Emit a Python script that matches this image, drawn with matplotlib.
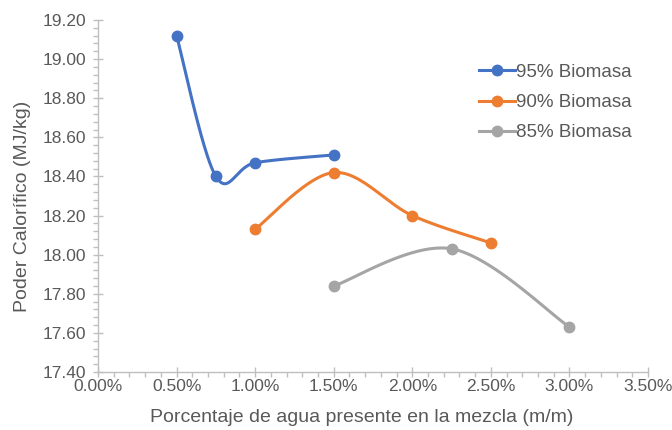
import numpy as np
import matplotlib
matplotlib.use("Agg")
import matplotlib.pyplot as plt
from matplotlib.ticker import MultipleLocator, FuncFormatter
from matplotlib.lines import Line2D

# Water content in the mixture (% m/m) and calorific value (MJ/kg)
x_95 = [0.50, 0.75, 1.00, 1.50]
y_95 = [19.12, 18.40, 18.47, 18.51]
x_90 = [1.00, 1.50, 2.00, 2.50]
y_90 = [18.13, 18.42, 18.20, 18.06]
x_85 = [1.50, 2.25, 3.00]
y_85 = [17.84, 18.03, 17.63]
series_labels = ["95% Biomasa", "90% Biomasa", "85% Biomasa"]
series_colors = ["#4472C4", "#ED7D31", "#A5A5A5"]

plt.rcParams["font.family"] = ["Liberation Sans", "DejaVu Sans"]

fig = plt.figure(figsize=(6.72, 4.30), dpi=100)
ax = fig.add_axes([98 / 672, 1 - 372 / 430, 550 / 672, 352 / 430])
ax.set_xlim(0, 3.5)
ax.set_ylim(17.40, 19.20)


def smooth_curve(ax, xs, ys, n=60):
    """Cardinal (Catmull-Rom) Bezier smoothing computed in display space."""
    pts = ax.transData.transform(np.column_stack([xs, ys]))
    out = [pts[0]]
    m = len(pts)
    for i in range(m - 1):
        p0 = pts[i - 1] if i > 0 else pts[i]
        p1 = pts[i]
        p2 = pts[i + 1]
        p3 = pts[i + 2] if i + 2 < m else pts[i + 1]
        c1 = p1 + (p2 - p0) / 6.0
        c2 = p2 - (p3 - p1) / 6.0
        t = np.linspace(0, 1, n)[1:, None]
        seg = ((1 - t) ** 3) * p1 + 3 * ((1 - t) ** 2) * t * c1 \
            + 3 * (1 - t) * t ** 2 * c2 + t ** 3 * p2
        out.extend(seg)
    out = np.array(out)
    data = ax.transData.inverted().transform(out)
    return data[:, 0], data[:, 1]


handles = []
for xs, ys, lab, col in zip([x_95, x_90, x_85], [y_95, y_90, y_85],
                            series_labels, series_colors):
    sx, sy = smooth_curve(ax, xs, ys)
    ax.plot(sx, sy, color=col, lw=2.2, solid_capstyle="round", zorder=2)
    ax.plot(xs, ys, "o", color=col, ms=7.5, zorder=3)
    handles.append(Line2D([], [], color=col, lw=2.2, marker="o", ms=7.5))

# Axes styling
for s in ("top", "right"):
    ax.spines[s].set_visible(False)
for s in ("left", "bottom"):
    ax.spines[s].set_color("#BFBFBF")
    ax.spines[s].set_linewidth(1.0)

ax.xaxis.set_major_locator(MultipleLocator(0.5))
ax.xaxis.set_minor_locator(MultipleLocator(0.1))
ax.yaxis.set_major_locator(MultipleLocator(0.2))
ax.yaxis.set_minor_locator(MultipleLocator(0.04))
ax.xaxis.set_major_formatter(FuncFormatter(lambda v, p: f"{v:.2f}%"))
ax.yaxis.set_major_formatter(FuncFormatter(lambda v, p: f"{v:.2f}"))

ax.tick_params(which="major", direction="inout", length=7, width=1,
               color="#BFBFBF", labelcolor="#595959", labelsize=12.5)
ax.tick_params(which="minor", direction="out", length=3.5, width=1,
               color="#BFBFBF")
ax.tick_params(axis="x", which="major", pad=1.5)
ax.tick_params(axis="y", which="major", pad=5)

ax.set_xlabel("Porcentaje de agua presente en la mezcla (m/m)",
              fontsize=14, color="#595959")
ax.set_ylabel("Poder Calorífico (MJ/kg)", fontsize=14, color="#595959")
ax.xaxis.set_label_coords(0.480, -0.104)
ax.yaxis.set_label_coords(-0.121, 0.47)

leg = ax.legend(handles, series_labels, loc="upper left",
                bbox_to_anchor=(0.675, 0.902), frameon=False, fontsize=13.5,
                handlelength=1.95, handletextpad=0.05, labelspacing=0.7,
                labelcolor="#595959", borderpad=0)

fig.savefig("out.png", dpi=100)
